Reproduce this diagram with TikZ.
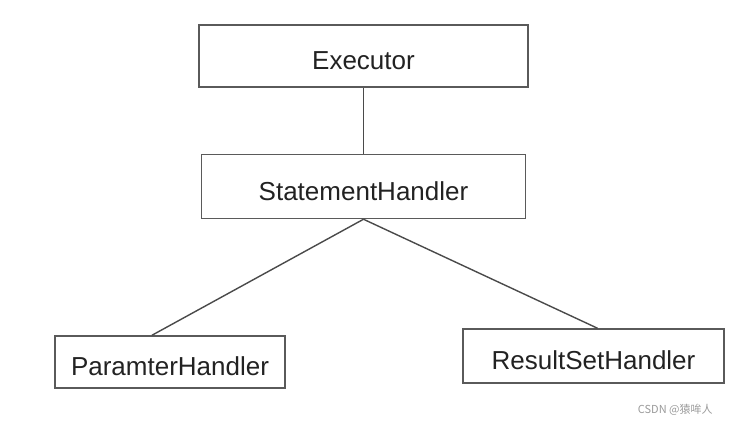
\documentclass[tikz,border=0pt]{standalone}
\usepackage{fontspec}
\setmainfont{Liberation Sans}
\newfontfamily\cjk{Noto Sans CJK SC}
\usepackage{xcolor}
\usepackage{tikz}
\usetikzlibrary{positioning, calc}

\definecolor{boxgray}{HTML}{5A5A5A}
\definecolor{linkgray}{HTML}{4A4A4A}
\definecolor{textgray}{HTML}{222222}
\definecolor{markgray}{HTML}{9A9A9A}

\begin{document}
\begin{tikzpicture}[
    x=0.5pt, y=-0.5pt,
    font=\fontsize{13}{15}\selectfont,
    node distance=33pt,
    %% box styles
    box/.style={
        draw=boxgray, line width=0.75pt, inner sep=0pt,
        text height=14pt, text depth=0pt,
        minimum height=31pt, text=textgray
    },
    %% connector style
    link/.style={draw=linkgray, line width=0.7pt}
]
    \useasboundingbox (0,0) rectangle (755,432);

    %% --- nodes ------------------------------------------------
    \node[box, minimum width=164.5pt] (exec) at (363.5,56) {Executor};
    \node[box, minimum width=162pt, minimum height=32pt] (stmt) [below=of exec] {StatementHandler};

    \node[box, minimum width=115pt, minimum height=26pt] (param) at (170,362) {ParamterHandler};
    \node[box, minimum width=130.5pt, minimum height=27pt] (result) at (593.5,356) {ResultSetHandler};

    %% --- connectors -------------------------------------------
    \draw[link] (exec) -- (stmt);
    \draw[link] (stmt.south) -- ($(param.north)+(-9pt,0)$);
    \draw[link] (stmt.south) -- ($(result.north)+(2pt,0)$);

    %% --- watermark --------------------------------------------
    \node[font=\cjk\fontsize{5.5}{6}\selectfont, text=markgray, anchor=east, inner sep=0pt]
        (mark) at (713,410) {CSDN @猿哞人};
\end{tikzpicture}
\end{document}
